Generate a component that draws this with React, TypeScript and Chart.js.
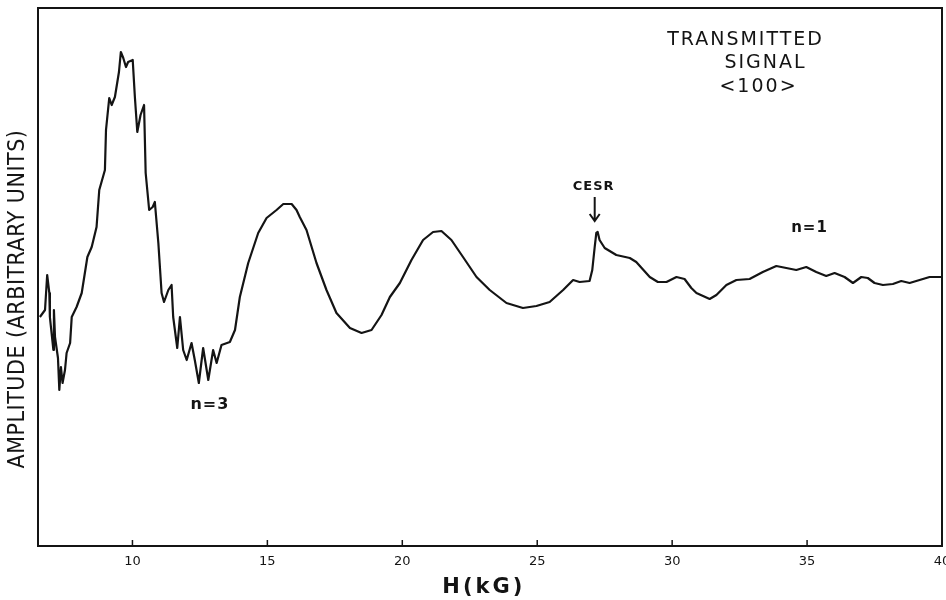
import React, { useEffect, useRef } from "react";
import { Chart, registerables } from "chart.js";

Chart.register(...registerables);

// Magnetic field H (kG)
const fieldKG: number[] = [
  6.57, 6.76, 6.84, 6.92, 6.94, 7.07, 7.09, 7.13, 7.24, 7.29,
  7.35, 7.41, 7.5, 7.56, 7.69, 7.75, 7.93, 8.12, 8.33, 8.49,
  8.67, 8.77, 8.98, 9.02, 9.14, 9.23, 9.35, 9.5, 9.57, 9.66,
  9.76, 9.84, 10.01, 10.09, 10.18, 10.3, 10.43, 10.49, 10.62, 10.75,
  10.83, 10.96, 11.08, 11.17, 11.33, 11.45, 11.51, 11.66, 11.76, 11.88,
  12.01, 12.19, 12.31, 12.46, 12.62, 12.81, 12.99, 13.12, 13.3, 13.61,
  13.8, 13.98, 14.29, 14.66, 14.97, 15.34, 15.59, 15.9, 16.08, 16.2,
  16.45, 16.82, 17.19, 17.56, 18.06, 18.49, 18.86, 19.23, 19.54, 19.91,
  20.34, 20.77, 21.14, 21.45, 21.82, 22.25, 22.75, 23.24, 23.86, 24.47,
  24.97, 25.46, 25.96, 26.33, 26.57, 26.94, 27.04, 27.13, 27.19, 27.24,
  27.31, 27.5, 27.93, 28.43, 28.67, 29.17, 29.47, 29.79, 30.16, 30.46,
  30.71, 30.9, 31.39, 31.64, 32.01, 32.38, 32.87, 33.36, 33.86, 34.23,
  34.6, 34.97, 35.34, 35.71, 36.02, 36.39, 36.7, 37.01, 37.25, 37.5,
  37.81, 38.18, 38.49, 38.8, 39.17, 39.54, 39.91, 40.0,
];

// Transmitted signal amplitude (arbitrary units)
const amplitude: number[] = [
  45.8, 47.2, 54.2, 50.6, 45.8, 39.2, 47.2, 41.8, 37.6, 31.2,
  35.8, 32.6, 35.2, 38.6, 40.6, 45.8, 47.8, 50.6, 57.8, 59.8,
  63.8, 71.2, 75.2, 83.2, 89.6, 88.2, 89.8, 94.8, 98.8, 97.6,
  95.8, 96.8, 97.2, 89.8, 82.8, 86.2, 88.2, 74.6, 67.2, 67.8,
  68.8, 60.6, 50.6, 48.8, 51.2, 52.2, 45.8, 39.6, 45.8, 39.2,
  37.2, 40.6, 37.2, 32.6, 39.6, 33.2, 39.2, 36.6, 40.2, 40.8,
  43.2, 49.8, 56.6, 62.6, 65.6, 67.2, 68.4, 68.4, 67.2, 65.8,
  63.2, 56.6, 51.2, 46.6, 43.6, 42.6, 43.2, 46.2, 49.8, 52.6,
  57.2, 61.2, 62.8, 63.0, 61.2, 57.8, 53.8, 51.2, 48.6, 47.6,
  48.0, 48.8, 51.2, 53.2, 52.8, 53.0, 55.2, 59.8, 62.6, 62.8,
  61.2, 59.6, 58.2, 57.6, 56.8, 53.8, 52.8, 52.8, 53.8, 53.4,
  51.6, 50.6, 49.4, 50.2, 52.2, 53.2, 53.4, 54.8, 56.0, 55.6,
  55.2, 55.8, 54.8, 54.0, 54.6, 53.8, 52.6, 53.8, 53.6, 52.6,
  52.2, 52.4, 53.0, 52.6, 53.2, 53.8, 53.8, 53.8,
];

const xTickValues: number[] = [10, 15, 20, 25, 30, 35, 40];
const xMin = 6.5;
const xMax = 40;
const yMin = 0;
const yMax = 107.6;

const titleLines: string[] = ["TRANSMITTED", "SIGNAL", "<100>"];
const titleX: number[] = [32.72, 33.46, 33.2];
const titleY: number[] = [101.2, 96.6, 91.8];

const cesrLabel = "CESR";
const cesrField = 27.13;
const n1Label = "n=1";
const n3Label = "n=3";
const xTitle = "H(kG)";
const yTitle = "AMPLITUDE (ARBITRARY UNITS)";

const INK = "#141414";

const decorPlugin = {
  id: "decor",
  afterDraw(chart: any) {
    const { ctx, chartArea: a, scales } = chart;
    const x = scales.x;
    const y = scales.y;
    ctx.save();
    // frame
    ctx.strokeStyle = INK;
    ctx.lineWidth = 2;
    ctx.strokeRect(a.left, a.top, a.right - a.left, a.bottom - a.top);
    // inward tick marks
    ctx.lineWidth = 1.5;
    for (const t of xTickValues) {
      const px = x.getPixelForValue(t);
      ctx.beginPath();
      ctx.moveTo(px, a.bottom);
      ctx.lineTo(px, a.bottom - 6);
      ctx.stroke();
    }
    ctx.fillStyle = INK;
    ctx.textAlign = "center";
    ctx.textBaseline = "middle";
    // title block
    ctx.font = "19px 'DejaVu Sans'";
    (ctx as any).letterSpacing = "2px";
    titleLines.forEach((s, i) => {
      ctx.fillText(s, x.getPixelForValue(titleX[i]), y.getPixelForValue(titleY[i]));
    });
    // CESR label + arrow
    ctx.font = "bold 13px 'DejaVu Sans'";
    (ctx as any).letterSpacing = "1px";
    const cx = x.getPixelForValue(cesrField);
    ctx.fillText(cesrLabel, x.getPixelForValue(27.09), y.getPixelForValue(71.8));
    const ay1 = y.getPixelForValue(69.8);
    const ay2 = y.getPixelForValue(65.0);
    ctx.lineWidth = 2;
    ctx.beginPath();
    ctx.moveTo(cx, ay1);
    ctx.lineTo(cx, ay2);
    ctx.moveTo(cx - 5, ay2 - 7);
    ctx.lineTo(cx, ay2);
    ctx.lineTo(cx + 5, ay2 - 7);
    ctx.stroke();
    // n labels
    ctx.font = "bold 15px 'DejaVu Sans'";
    (ctx as any).letterSpacing = "1px";
    ctx.fillText(n1Label, x.getPixelForValue(35.09), y.getPixelForValue(63.6));
    ctx.font = "bold 16px 'DejaVu Sans'";
    ctx.fillText(n3Label, x.getPixelForValue(12.87), y.getPixelForValue(28.2));
    // x title
    ctx.font = "bold 21px 'DejaVu Sans'";
    (ctx as any).letterSpacing = "3px";
    ctx.fillText(xTitle, x.getPixelForValue(23.02), 588);
    // y title
    ctx.font = "23px 'DejaVu Sans Condensed'";
    (ctx as any).letterSpacing = "0.5px";
    ctx.translate(a.left - 20, (a.top + a.bottom) / 2 + 22);
    ctx.rotate(-Math.PI / 2);
    ctx.fillText(yTitle, 0, 0);
    ctx.restore();
  },
};

export default function App() {
  const canvasRef = useRef<HTMLCanvasElement | null>(null);

  useEffect(() => {
    if (!canvasRef.current) return;
    const chart = new Chart(canvasRef.current, {
      type: "line",
      data: {
        datasets: [
          {
            data: fieldKG.map((h, i) => ({ x: h, y: amplitude[i] })),
            borderColor: INK,
            borderWidth: 2.2,
            borderJoinStyle: "round",
            pointRadius: 0,
            tension: 0,
            fill: false,
          },
        ],
      },
      options: {
        animation: false,
        responsive: false,
        devicePixelRatio: 1,
        layout: { padding: { left: 38, right: 4, top: 8, bottom: 0 }, autoPadding: false },
        plugins: { legend: { display: false }, tooltip: { enabled: false } },
        scales: {
          x: {
            type: "linear",
            min: xMin,
            max: xMax,
            afterBuildTicks: (s: any) => {
              s.ticks = xTickValues.map((v) => ({ value: v }));
            },
            afterFit: (s: any) => {
              s.height = 54;
              s.paddingLeft = 0;
              s.paddingRight = 0;
            },
            grid: { display: false, drawTicks: false },
            border: { display: false },
            ticks: {
              padding: 8,
              color: INK,
              autoSkip: false,
              maxRotation: 0,
              font: { family: "'DejaVu Sans'", size: 13 },
            },
          },
          y: { display: false, min: yMin, max: yMax },
        },
      },
      plugins: [decorPlugin],
    } as any);
    return () => chart.destroy();
  }, []);

  return (
    <div style={{ position: "absolute", left: 0, top: 0, width: 946, height: 600, background: "#fff" }}>
      <canvas ref={canvasRef} width={946} height={600} />
    </div>
  );
}
